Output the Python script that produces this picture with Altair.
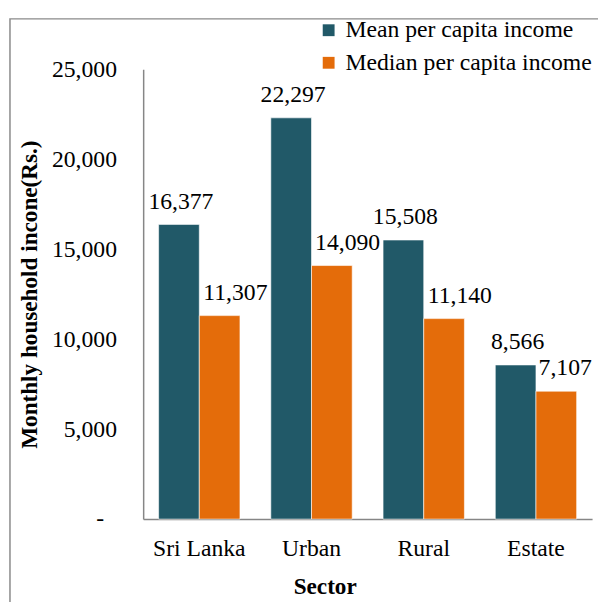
import altair as alt
import pandas as pd

sectors = ["Sri Lanka", "Urban", "Rural", "Estate"]
series = ["Mean per capita income", "Median per capita income"]
mean_income = [16377, 22297, 15508, 8566]
median_income = [11307, 14090, 11140, 7107]
y_ticks = [0, 5000, 10000, 15000, 20000, 25000]
colors = ["#215968", "#E46C0A"]

rows = []
for s, v in zip(sectors, mean_income):
    rows.append({"sector": s, "series": series[0], "value": v})
for s, v in zip(sectors, median_income):
    rows.append({"sector": s, "series": series[1], "value": v})
df = pd.DataFrame(rows)

FONT = "'Liberation Serif', 'Times New Roman', Times, serif"

base = alt.Chart(df).encode(
    x=alt.X(
        "sector:N",
        sort=sectors,
        scale=alt.Scale(paddingInner=0.275, paddingOuter=0.1375),
        axis=alt.Axis(
            labelAngle=0,
            domainColor="#868686",
            domainWidth=1.5,
            ticks=False,
            tickSize=0,
            labelPadding=18,
            labelFont=FONT,
            labelFontSize=24,
            labelColor="black",
            title="Sector",
            titleFont=FONT,
            titleFontSize=23.5,
            titleFontWeight="bold",
            titleColor="black",
            titleX=184,
            titleY=75,
            titleBaseline="alphabetic",
            titleAlign="center",
        ),
    ),
    xOffset=alt.XOffset("series:N", sort=series, scale=alt.Scale(paddingInner=0, paddingOuter=0)),
    y=alt.Y(
        "value:Q",
        scale=alt.Scale(domain=[0, 25000], nice=False),
        axis=alt.Axis(
            values=y_ticks,
            labelExpr="datum.value == 0 ? '-' : format(datum.value, ',')",
            domainColor="#868686",
            domainWidth=1.5,
            ticks=False,
            tickSize=0,
            grid=False,
            labelPadding={"condition": {"test": "datum.value == 0", "value": 40}, "value": 27},
            labelFont=FONT,
            labelFontSize=24,
            labelColor="black",
            title="Monthly household incone(Rs.)",
            titleFont=FONT,
            titleFontSize=23.5,
            titleFontWeight="bold",
            titleColor="black",
            titlePadding=10,
        ),
    ),
)

bars = base.mark_bar(stroke="white", strokeWidth=0.6).encode(
    color=alt.Color(
        "series:N",
        scale=alt.Scale(domain=series, range=colors),
        legend=alt.Legend(
            orient="none",
            legendX=176,
            legendY=-51.5,
            title=None,
            symbolType="square",
            symbolSize=144,
            symbolStrokeWidth=0,
            labelFont=FONT,
            labelFontSize=24,
            labelColor="black",
            labelOffset=5,
            rowPadding=9,
            padding=0,
            labelLimit=500,
        ),
    )
)

def labels(filter_expr, dx):
    return base.mark_text(
        baseline="alphabetic", dy=-16, dx=dx, font=FONT, fontSize=24, color="black"
    ).encode(text=alt.Text("value:Q", format=",")).transform_filter(filter_expr)

mean_labels = labels(f"datum.series == '{series[0]}'", 2)
median_labels = labels(f"datum.series == '{series[1]}' && datum.sector != 'Estate'", 16)
median_estate = labels(f"datum.series == '{series[1]}' && datum.sector == 'Estate'", 9)

border = alt.Chart(pd.DataFrame({"a": [0]})).mark_rect(
    fillOpacity=0, stroke="#8a8a8a", strokeWidth=1.5
).encode(
    x=alt.value(-135), x2=alt.value(800), y=alt.value(-51), y2=alt.value(800)
)

chart = alt.layer(border, bars, mean_labels, median_labels, median_estate).properties(
    width=455,
    height=456,
    autosize=alt.AutoSizeParams(type="none"),
    padding={"left": 137, "top": 58, "right": 6, "bottom": 80},
    background="white",
).configure_view(stroke=None)

chart.save("out.html", embed_options={"renderer": "svg", "actions": False})
